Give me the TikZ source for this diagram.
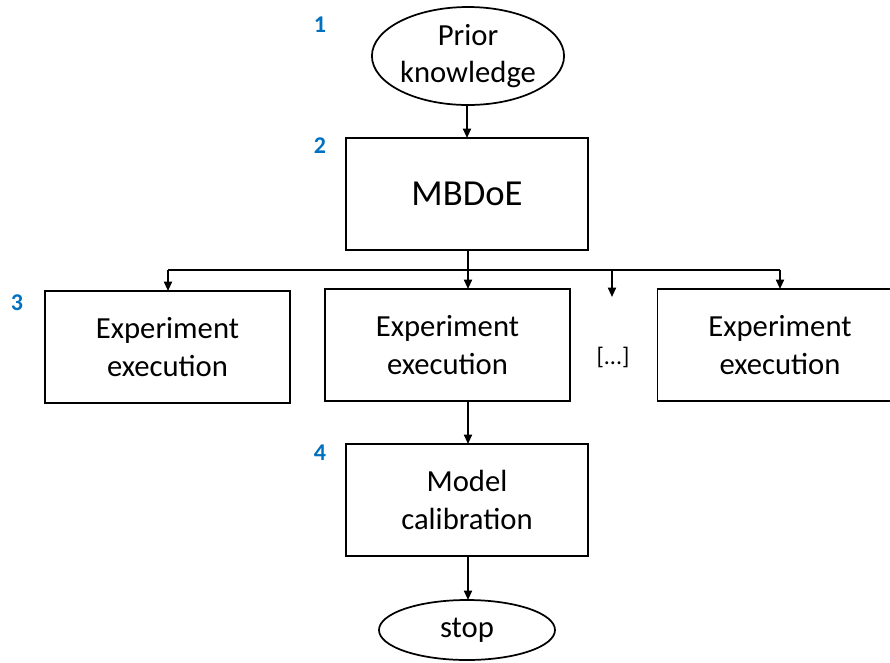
\documentclass[tikz,border=0pt]{standalone}
\usepackage{fontspec}
\setmainfont{Carlito}
\usetikzlibrary{arrows.meta,shapes.geometric}
\definecolor{stepblue}{RGB}{0,112,192}
\begin{document}
\begin{tikzpicture}[x=0.75pt,y=-0.75pt,
  every node/.style={inner sep=0pt,outer sep=0pt},
  txt/.style={font=\fontsize{23}{28}\selectfont,align=center},
  box/.style={txt,draw,line width=1.3pt,minimum height=84pt},
  oval/.style={txt,draw,ellipse,line width=1.3pt},
  num/.style={font=\fontsize{18}{21}\selectfont\bfseries,text=stepblue},
  link/.style={line width=1.3pt},
  arr/.style={link,-{Triangle[length=7pt,width=6pt]}}]
\useasboundingbox (0,0) rectangle (890,662);

% start / stop
\node[oval,minimum width=137pt,minimum height=73.5pt] (prior) at (468,56) {Prior\\knowledge};
\node[oval,minimum width=132pt,minimum height=45pt] (stop) at (467,630) {stop};

% process boxes
\node[box,minimum width=181.5pt,font=\fontsize{27.5}{32}\selectfont] (mbdoe) at (467,194) {MBDoE};
\node[box,minimum width=183.75pt] (exp1) at (167.5,347) {Experiment\\execution};
\node[box,minimum width=183.75pt] (exp2) at (447.5,345) {Experiment\\execution};
\node[box,minimum width=183.75pt] (exp3) at (780,345) {Experiment\\execution};
\node[font=\fontsize{18}{22}\selectfont] (dots) at (613,357) {[...]};
\node[box,minimum width=181.5pt] (calib) at (467,500) {Model\\calibration};

% step numbers
\node[num] (n1) at (320,25) {1};
\node[num] (n2) at (320,146) {2};
\node[num] (n3) at (17,303) {3};
\node[num] (n4) at (320,453) {4};

% distribution bus
\coordinate (bus) at (468,270);
\coordinate (busL) at (168,270);
\coordinate (busD) at (612,270);
\coordinate (busR) at (780,270);
\coordinate (dotsin) at (612,297);

\draw[arr] (prior.south -| mbdoe.north) -- (mbdoe.north);
\draw[link] (mbdoe.south -| bus) -- (bus);
\draw[link] (busL) -- (busR);
\draw[arr] (busL) -- (exp1.north -| busL);
\draw[arr] (bus) -- (exp2.north -| bus);
\draw[arr] (busD) -- (dotsin);
\draw[arr] (busR) -- (exp3.north);
\draw[arr] (exp2.south -| bus) -- (calib.north -| bus);
\draw[arr] (calib.south -| bus) -- (stop.north -| bus);
\end{tikzpicture}
\end{document}
